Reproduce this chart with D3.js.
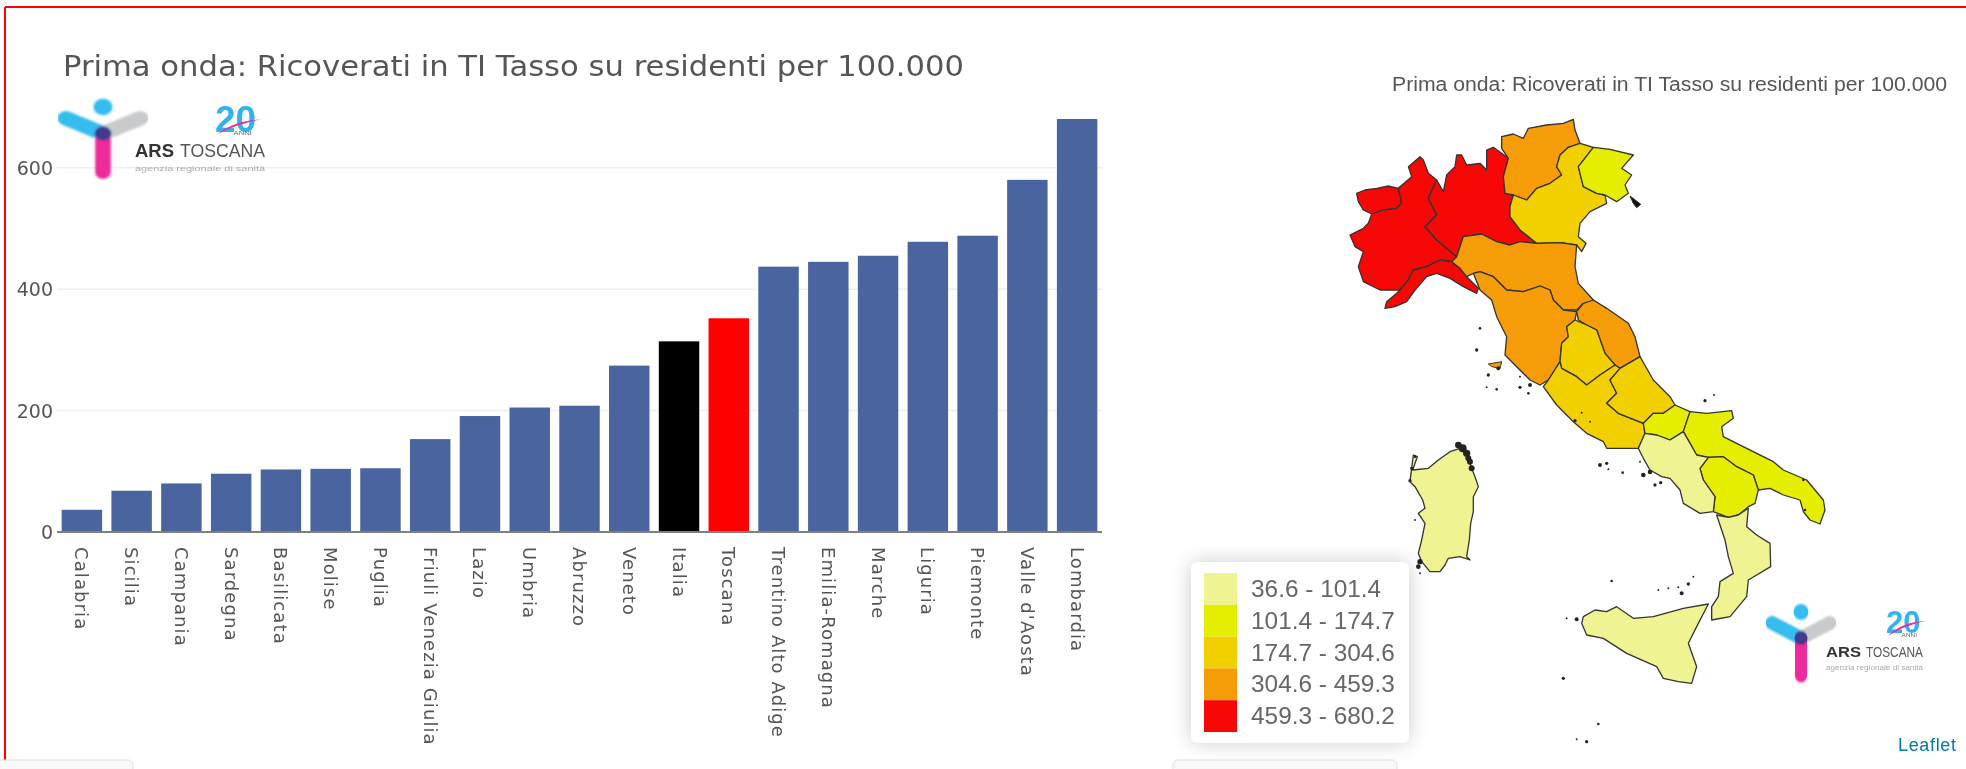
<!DOCTYPE html>
<html><head><meta charset="utf-8">
<script src="https://d3js.org/d3.v7.min.js"></script>
<style>html,body{margin:0;padding:0;background:#fff;overflow:hidden}svg{display:block;filter:blur(0.55px)}</style>
</head><body><svg id="c" width="1966" height="769"></svg>
<script>
const chartTitle="Prima onda: Ricoverati in TI Tasso su residenti per 100.000";
const categories=["Calabria","Sicilia","Campania","Sardegna","Basilicata","Molise","Puglia","Friuli Venezia Giulia","Lazio","Umbria","Abruzzo","Veneto","Italia","Toscana","Trentino Alto Adige","Emilia-Romagna","Marche","Liguria","Piemonte","Valle d'Aosta","Lombardia"];
const values=[36.6,68,80,96,103,104,105,153,191,205,208,274,314,352,437,445,455,478,488,580,680.2];
const yTicks=[0,200,400,600];
const legendBreaks=[101.4,174.7,304.6,459.3];
const legendLabels=["36.6 - 101.4","101.4 - 174.7","174.7 - 304.6","304.6 - 459.3","459.3 - 680.2"];
const legendColors=["#eff391","#e6ee00","#f2d000","#f59c07","#f80707"];

// Region outlines on a map grid
const valleDAosta=[[170,400],[195,390],[230,385],[265,378],[295,385],[300,405],[305,430],[290,445],[250,450],[215,462],[190,450],[175,425]];
const piemonte=[[360,290],[325,320],[335,350],[300,380],[295,385],[300,405],[305,430],[290,445],[250,450],[215,462],[205,490],[190,505],[150,525],[165,560],[190,575],[175,620],[190,665],[240,690],[300,690],[325,660],[340,630],[380,620],[420,600],[455,605],[470,590],[440,565],[410,540],[375,500],[410,465],[385,415],[410,360],[385,340],[370,300]];
const liguria=[[255,745],[260,725],[290,700],[300,690],[325,660],[340,630],[380,620],[420,600],[455,605],[480,625],[500,650],[535,685],[530,700],[490,680],[450,655],[410,640],[380,650],[345,690],[320,725],[285,740]];
const lombardia=[[385,415],[410,360],[430,395],[440,345],[465,320],[470,285],[485,285],[500,315],[540,310],[560,330],[560,270],[580,262],[605,280],[625,295],[610,350],[615,400],[640,405],[630,440],[630,470],[660,510],[710,550],[660,545],[630,555],[590,545],[545,522],[490,530],[470,590],[440,565],[410,540],[375,500],[410,465]];
const trentino=[[605,230],[640,222],[670,235],[685,205],[740,195],[790,190],[820,178],[825,210],[840,250],[805,262],[780,285],[770,320],[785,345],[750,370],[710,385],[680,420],[640,405],[615,400],[610,350],[625,295],[605,265]];
const veneto=[[840,250],[880,262],[835,320],[850,380],[890,400],[915,405],[920,430],[870,455],[840,490],[835,530],[858,550],[845,575],[830,555],[780,548],[710,550],[660,510],[630,470],[630,440],[640,405],[680,420],[710,385],[750,370],[785,345],[770,320],[780,285],[805,262]];
const friuli=[[880,262],[930,268],[1000,285],[965,325],[995,345],[975,375],[985,400],[950,425],[915,405],[890,400],[850,380],[835,320]];
const emilia=[[490,530],[545,522],[590,545],[630,555],[660,545],[710,550],[780,548],[830,555],[825,620],[835,670],[880,720],[880,735],[850,730],[830,750],[790,750],[760,720],[750,690],[720,678],[670,695],[620,690],[580,650],[540,635],[520,640],[500,650],[480,625],[455,605],[470,590]];
const toscana=[[520,640],[540,635],[580,650],[620,690],[670,695],[720,678],[750,690],[760,720],[790,750],[830,755],[825,780],[800,800],[805,830],[785,850],[780,905],[745,960],[720,975],[690,960],[650,920],[615,885],[620,830],[590,770],[575,720],[540,690]];
const marche=[[880,720],[920,745],[985,790],[1005,830],[1020,890],[960,925],[945,915],[915,880],[890,810],[860,795],[835,780],[830,755],[850,730]];
const umbria=[[825,780],[860,795],[890,810],[915,880],[945,915],[900,945],[860,975],[830,950],[785,925],[780,905],[785,850],[805,830],[800,800]];
const lazio=[[745,960],[780,905],[785,925],[830,950],[860,975],[900,945],[945,915],[960,925],[930,960],[950,1000],[920,1030],[955,1060],[1030,1090],[1035,1120],[1015,1165],[970,1165],[920,1165],[910,1145],[860,1120],[820,1085],[770,1035],[730,980]];
const abruzzo=[[1020,890],[1060,960],[1110,1010],[1125,1035],[1090,1060],[1060,1060],[1030,1090],[955,1060],[920,1030],[950,1000],[930,960],[960,925]];
const molise=[[1125,1035],[1170,1055],[1150,1115],[1110,1140],[1070,1125],[1035,1120],[1030,1090],[1060,1060],[1090,1060]];
const puglia=[[1170,1055],[1220,1060],[1295,1052],[1300,1075],[1265,1100],[1270,1130],[1340,1165],[1420,1205],[1450,1230],[1520,1260],[1570,1320],[1575,1350],[1560,1392],[1530,1380],[1510,1355],[1500,1320],[1450,1305],[1410,1285],[1375,1290],[1360,1245],[1310,1220],[1270,1190],[1225,1192],[1190,1185],[1150,1115]];
const basilicata=[[1225,1192],[1270,1190],[1310,1220],[1360,1245],[1375,1290],[1365,1330],[1345,1340],[1315,1365],[1285,1372],[1240,1355],[1245,1310],[1210,1260],[1200,1225]];
const campania=[[1035,1120],[1070,1125],[1110,1140],[1150,1115],[1190,1185],[1225,1192],[1200,1225],[1210,1260],[1245,1310],[1240,1355],[1200,1360],[1150,1330],[1140,1290],[1110,1255],[1085,1250],[1050,1230],[1030,1195],[1015,1165]];
const calabria=[[1250,1365],[1285,1372],[1315,1365],[1345,1345],[1340,1400],[1370,1425],[1410,1450],[1412,1520],[1345,1560],[1340,1610],[1290,1670],[1235,1680],[1235,1640],[1255,1610],[1260,1565],[1300,1540],[1285,1490],[1275,1440]];
const sicilia=[[850,1670],[885,1650],[920,1655],[950,1640],[1000,1675],[1060,1670],[1150,1645],[1225,1632],[1190,1700],[1165,1750],[1190,1820],[1175,1870],[1135,1865],[1090,1855],[1070,1820],[980,1780],[910,1735],[860,1725],[845,1690]];
const sardegna=[[340,1185],[352,1190],[338,1230],[385,1225],[415,1200],[450,1175],[480,1165],[500,1185],[515,1225],[525,1250],[535,1280],[520,1310],[520,1355],[512,1390],[508,1440],[500,1490],[510,1500],[480,1490],[445,1495],[435,1515],[420,1535],[390,1535],[365,1505],[355,1480],[365,1440],[375,1390],[355,1360],[375,1345],[368,1320],[345,1280],[330,1265]];
const regionShapes={"Valle d'Aosta":valleDAosta,"Piemonte":piemonte,"Liguria":liguria,"Lombardia":lombardia,"Trentino Alto Adige":trentino,"Veneto":veneto,"Friuli Venezia Giulia":friuli,"Emilia-Romagna":emilia,"Toscana":toscana,"Marche":marche,"Umbria":umbria,"Lazio":lazio,"Abruzzo":abruzzo,"Molise":molise,"Puglia":puglia,"Basilicata":basilicata,"Campania":campania,"Calabria":calabria,"Sicilia":sicilia,"Sardegna":sardegna};
const triesteTip=[[990,408],[1022,433],[1010,443],[1000,430]];
const elba=[[565,912],[605,905],[600,925],[575,920]];
const islets=[[540,805,3],[530,870,4],[565,945,4],[660,950,2],[590,988,3],[560,982,2],[660,982,4],[685,1000,3],[690,975,5],[595,925,5],[1215,1022,4],[1242,1005,2],[900,1215,5],[920,1210,4],[925,1228,2],[968,1238,3],[1030,1245,6],[1050,1236,6],[1065,1275,4],[1082,1268,4],[935,1563,3],[1075,1590,2],[1105,1585,2],[1135,1582,2],[1165,1572,4],[1180,1550,2],[1145,1600,5],[800,1675,2],[830,1678,5],[790,1855,4],[895,1992,3],[830,2038,2],[860,2045,4],[825,1082,4],[845,1058,2],[870,1085,2],[1510,1260,3],[1515,1350,3],[1020,1205,2]];
const sardiniaDark=[[475,1155,9],[488,1165,11],[500,1180,10],[510,1205,8],[515,1225,8],[505,1195,8],[335,1225,4],[330,1262,4],[345,1190,3],[360,1505,7],[355,1520,6],[360,1540,2],[345,1380,2]];

const svg=d3.select("#c");
svg.append("line").attr("x1",5).attr("x2",1966).attr("y1",7).attr("y2",7).attr("stroke","#ff0000").attr("stroke-width",2);
svg.append("line").attr("x1",5).attr("x2",5).attr("y1",7).attr("y2",769).attr("stroke","#ff0000").attr("stroke-width",2);

// bar chart
const x=d3.scaleBand().domain(categories).range([57,1102]).paddingInner(0.187).paddingOuter(0.0935);
const y=d3.scaleLinear().domain([0,600]).range([532,167.7]);
const font="'DejaVu Sans',sans-serif";
svg.append("text").attr("x",63).attr("y",76).attr("font-family",font).attr("font-size",28.5).attr("fill","#555").attr("textLength",901).attr("lengthAdjust","spacingAndGlyphs").text(chartTitle);
svg.append("g").selectAll("line").data(yTicks.filter(d=>d>0)).join("line").attr("x1",57).attr("x2",1102).attr("y1",d=>y(d)).attr("y2",d=>y(d)).attr("stroke","#eeeeee").attr("stroke-width",1.5);
svg.append("g").selectAll("text").data(yTicks).join("text").attr("x",53).attr("y",d=>y(d)+7).attr("text-anchor","end").attr("font-family",font).attr("font-size",19).attr("fill","#555").text(d=>d);
svg.append("g").selectAll("rect").data(categories).join("rect")
  .attr("x",d=>x(d)).attr("width",x.bandwidth())
  .attr("y",(d,i)=>y(values[i])).attr("height",(d,i)=>y(0)-y(values[i]))
  .attr("fill",d=>d==="Italia"?"#000000":d==="Toscana"?"#ff0000":"#4a64a0");
svg.append("line").attr("x1",57).attr("x2",1102).attr("y1",532).attr("y2",532).attr("stroke","#808080").attr("stroke-width",2);
svg.append("g").selectAll("text").data(categories).join("text")
  .attr("transform",d=>`translate(${x(d)+x.bandwidth()/2-6.5},547) rotate(90)`)
  .attr("font-family",font).attr("font-size",18).attr("letter-spacing",1.1).attr("fill","#555").text(d=>d);

// map
const gx=d3.scaleLinear().domain([0,1950]).range([1300,1950]);
const gy=d3.scaleLinear().domain([0,2130]).range([60,770]);
const color=d3.scaleThreshold().domain(legendBreaks).range(legendColors);
const outline=d3.line().x(d=>gx(d[0])).y(d=>gy(d[1])).curve(d3.curveLinearClosed);
const valueOf=n=>values[categories.indexOf(n)];
svg.append("text").attr("x",1392).attr("y",91).attr("font-family","'Liberation Sans',sans-serif").attr("font-size",20).attr("fill","#555").attr("textLength",555).attr("lengthAdjust","spacingAndGlyphs").text(chartTitle);
const mapG=svg.append("g");
mapG.selectAll("path.r").data(Object.keys(regionShapes)).join("path").attr("class","r")
  .attr("d",n=>outline(regionShapes[n])).attr("fill",n=>color(valueOf(n)))
  .attr("stroke","#333").attr("stroke-width",1.3).attr("stroke-linejoin","round");
mapG.append("path").attr("d",outline(triesteTip)).attr("fill","#111").attr("stroke","#222");
mapG.append("path").attr("d",outline(elba)).attr("fill",color(valueOf("Toscana"))).attr("stroke","#333");
mapG.selectAll("circle.i").data(islets.concat(sardiniaDark)).join("circle").attr("class","i")
  .attr("cx",d=>gx(d[0])).attr("cy",d=>gy(d[1])).attr("r",d=>d[2]/3+0.3).attr("fill","#222");

// legend
const defs=svg.append("defs");
const sh=defs.append("filter").attr("id","sh").attr("x","-30%").attr("y","-30%").attr("width","160%").attr("height","160%");
sh.append("feGaussianBlur").attr("stdDeviation",10);
const soft=defs.append("filter").attr("id","soft");
soft.append("feGaussianBlur").attr("stdDeviation",0.8);
svg.append("rect").attr("x",1191).attr("y",562).attr("width",218).attr("height",181).attr("rx",6).attr("fill","#000").attr("opacity",0.2).attr("filter","url(#sh)");
svg.append("rect").attr("x",1191).attr("y",562).attr("width",218).attr("height",181).attr("rx",6).attr("fill","#fff");
const legendEdges=d3.scaleLinear().domain([0,5]).range([573,732]);
const legend=svg.append("g");
legend.selectAll("rect").data(legendColors).join("rect").attr("x",1204).attr("width",33)
  .attr("y",(d,i)=>legendEdges(i)).attr("height",legendEdges(1)-legendEdges(0)).attr("fill",d=>d);
legend.selectAll("text").data(legendLabels).join("text").attr("x",1251).attr("y",(d,i)=>legendEdges(i)+24)
  .attr("font-family","'Liberation Sans',sans-serif").attr("font-size",24.4).attr("fill","#666").text(d=>d);
svg.append("text").attr("x",1898).attr("y",751).attr("font-family","'Liberation Sans',sans-serif").attr("font-size",18).attr("fill","#0078a8").attr("textLength",58).text("Leaflet");

// tabs at the bottom
for(const t of [[-10,143],[1173,224]]){
  svg.append("rect").attr("x",t[0]).attr("y",760).attr("width",t[1]).attr("height",30).attr("rx",5).attr("fill","#f8f8f8").attr("stroke","#dddddd");
}

// logo
function logo(tx,ty,sx,sy,o){
  const g=svg.append("g").attr("transform",`translate(${tx},${ty}) scale(${sx},${sy})`).attr("filter","url(#soft)");
  const lin=(x1,y1,x2,y2,c,w)=>g.append("line").attr("x1",x1).attr("y1",y1).attr("x2",x2).attr("y2",y2).attr("stroke",c).attr("stroke-width",w).attr("stroke-linecap","round");
  lin(31,11,0,26,"#c9cacc",14);
  lin(-31,11,0,26,"#35bdf0",14);
  lin(0,26,0,64,"#ee2a9c",13);
  g.append("circle").attr("cx",0).attr("cy",0).attr("r",8).attr("fill","#35bdf0");
  g.append("circle").attr("cx",0).attr("cy",26).attr("r",7).attr("fill","#3f3a8c");
  const t=svg.append("g").attr("transform",`translate(${tx},${ty})`);
  const lab=(s,px,py,fs,fill,len,bold)=>t.append("text").attr("x",px).attr("y",py).attr("font-family","'Liberation Sans',sans-serif").attr("font-size",fs).attr("fill",fill).attr("font-weight",bold?"bold":"normal").attr("textLength",len).attr("lengthAdjust","spacingAndGlyphs").text(s);
  lab("ARS",o.ars[0],o.base,o.fs,"#333",o.ars[1],true);
  lab("TOSCANA",o.tos[0],o.base,o.fs,"#555",o.tos[1],false);
  lab("agenzia regionale di sanità",o.ars[0],o.subBase,7.5,"#aaa",o.subLen,false);
  const n=t.append("text").attr("x",o.nx).attr("y",o.nb).attr("font-family","'Liberation Sans',sans-serif").attr("font-weight","bold").attr("font-size",o.nf).attr("fill","#2fb4ee");
  n.append("tspan").text("20");
  const w=o.nf*1.112;
  t.append("path").attr("d",`M${o.nx+2},${o.nb+3} Q${o.nx+w*.45},${o.nb-11} ${o.nx+w+5},${o.nb-12} Q${o.nx+w*.55},${o.nb-8} ${o.nx+2},${o.nb+3}Z`).attr("fill","#ee2a9c");
  lab("ANNI",o.nx+w*.45,o.nb+3.5,5.5,"#666",w*.45,false);
}
logo(103,107,1.2,1.02,{ars:[32,39],tos:[77,85],base:50,fs:18.5,subBase:64,subLen:130,nx:112,nb:24.5,nf:37});
logo(1801,612,0.93,1,{ars:[25,35],tos:[65,57],base:45,fs:15.5,subBase:58,subLen:97,nx:85,nb:21,nf:31});
</script></body></html>
